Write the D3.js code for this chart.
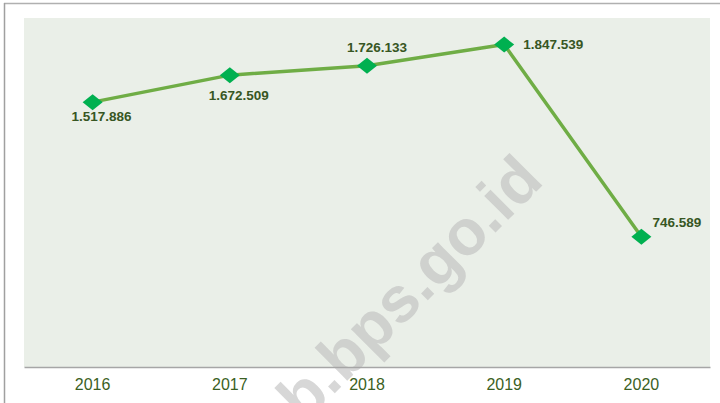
<!DOCTYPE html>
<html>
<head>
<meta charset="utf-8">
<script src="https://cdn.jsdelivr.net/npm/d3@7"></script>
<style>
  body { margin: 0; background: #fff; }
  svg { display: block; font-family: "Liberation Sans", Arial, sans-serif; }
</style>
</head>
<body>
<svg id="chart" width="720" height="403"></svg>
<script>
// data
var years = ["2016", "2017", "2018", "2019", "2020"];
var values = [1517886, 1672509, 1726133, 1847539, 746589];
var valueLabels = ["1.517.886", "1.672.509", "1.726.133", "1.847.539", "746.589"];

// where each label sits relative to its marker (dx, dy, anchor)
var labelPos = [
    {dx: 9, dy: 19, anchor: "middle"},
    {dx: 9, dy: 25, anchor: "middle"},
    {dx: 10, dy: -14, anchor: "middle"},
    {dx: 19, dy: 4, anchor: "start"},
    {dx: 11, dy: -10, anchor: "start"}
];

var screen = {width: 720, height: 403};
var plot = {left: 24, right: 710, top: 18, bottom: 367};

var svg = d3.select("#chart")
    .attr("width", screen.width)
    .attr("height", screen.height);

// outer frame (top + left edge)
svg.append("line")
    .attr("x1", 4).attr("x2", 720).attr("y1", 3.5).attr("y2", 3.5)
    .attr("stroke", "#b0b0b0").attr("stroke-width", 1.5);
svg.append("line")
    .attr("x1", 4.5).attr("x2", 4.5).attr("y1", 3).attr("y2", 403)
    .attr("stroke", "#a0a0a0").attr("stroke-width", 1.5);

// plot background
svg.append("rect")
    .attr("x", plot.left).attr("y", plot.top)
    .attr("width", plot.right - plot.left)
    .attr("height", plot.bottom - plot.top)
    .attr("fill", "#eaefe8");

var xScale = d3.scaleBand()
    .domain(years)
    .range([plot.left, plot.right]);

var yScale = d3.scaleLinear()
    .domain([0, 2000000])
    .range([plot.bottom, plot.top]);

var cx = function(d, i){ return xScale(years[i]) + xScale.bandwidth() / 2; };
var cy = function(d){ return yScale(d); };

// watermark
svg.append("text")
    .attr("transform", "translate(304,424) rotate(-45)")
    .attr("font-size", 64)
    .attr("font-weight", "bold")
    .attr("fill", "#bcbcbc")
    .attr("fill-opacity", 0.6)
    .text("b.bps.go.id");

// x axis
var xAxis = d3.axisBottom(xScale).tickSize(0).tickPadding(12);
var gx = svg.append("g")
    .attr("transform", "translate(0," + plot.bottom + ")")
    .call(xAxis);
gx.select(".domain")
    .attr("stroke", "#a6a6a6")
    .attr("stroke-width", 1.5);
gx.selectAll("text")
    .attr("font-size", 16)
    .attr("font-family", "Liberation Sans, Arial, sans-serif")
    .attr("fill", "#3b5f24");

// line
var line = d3.line()
    .x(function(d, i){ return cx(d, i); })
    .y(cy);

svg.append("path")
    .datum(values)
    .attr("d", line)
    .attr("fill", "none")
    .attr("stroke", "#6fad45")
    .attr("stroke-width", 3.5)
    .attr("stroke-linejoin", "round");

// diamond markers
var diamond = function(x, y){
    var w = 10, h = 8;
    return "M" + (x - w) + "," + y + "L" + x + "," + (y - h) +
           "L" + (x + w) + "," + y + "L" + x + "," + (y + h) + "Z";
};

svg.selectAll(".marker")
    .data(values)
    .enter()
    .append("path")
    .attr("class", "marker")
    .attr("d", function(d, i){ return diamond(cx(d, i), cy(d)); })
    .attr("fill", "#00b050");

// value labels
svg.selectAll(".vlabel")
    .data(values)
    .enter()
    .append("text")
    .attr("class", "vlabel")
    .attr("x", function(d, i){ return cx(d, i) + labelPos[i].dx; })
    .attr("y", function(d, i){ return cy(d) + labelPos[i].dy; })
    .attr("text-anchor", function(d, i){ return labelPos[i].anchor; })
    .attr("font-size", 13.5)
    .attr("font-weight", "bold")
    .attr("fill", "#375623")
    .text(function(d, i){ return valueLabels[i]; });
</script>
</body>
</html>
